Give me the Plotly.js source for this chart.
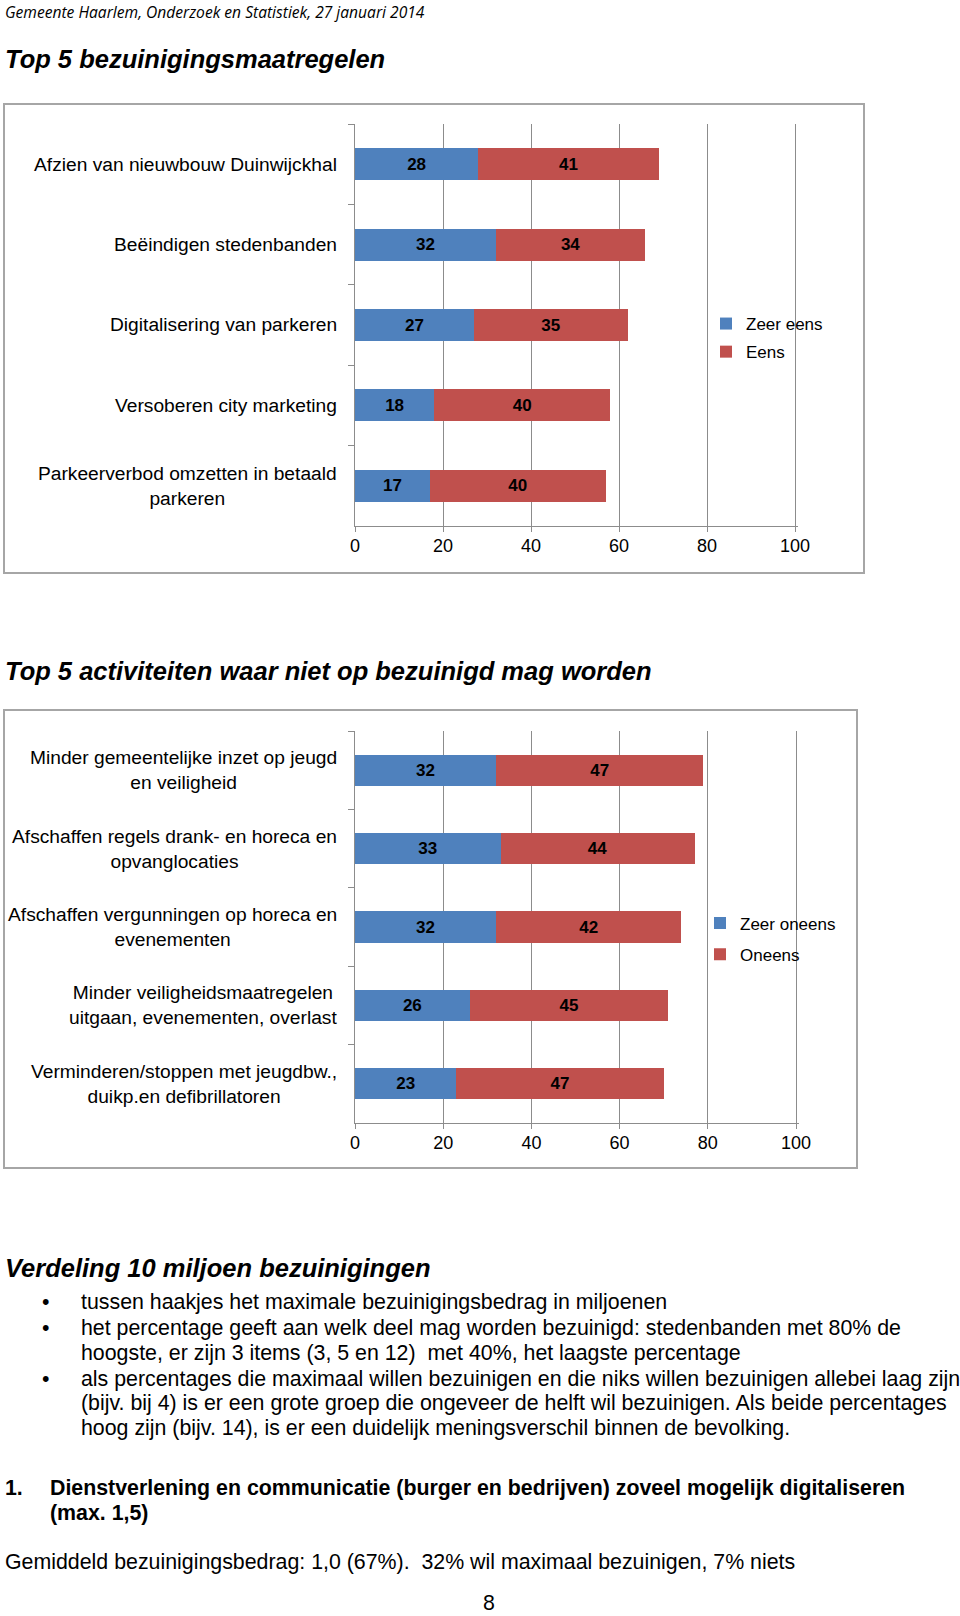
<!DOCTYPE html>
<html><head><meta charset="utf-8">
<script src="https://cdn.plot.ly/plotly-3.0.1.min.js"></script>
<style>html,body{margin:0;padding:0;background:#fff;} #chart{width:960px;height:1616px;}</style>
</head><body><div id="chart"></div>
<script>
// ---- data ----
const categories1 = ["Afzien van nieuwbouw Duinwijckhal", "Beëindigen stedenbanden", "Digitalisering van parkeren", "Versoberen city marketing", "Parkeerverbod omzetten in betaald<br>parkeren"];
const zeerEens = [28, 32, 27, 18, 17];
const eens = [41, 34, 35, 40, 40];
const seriesNames1 = ["Zeer eens", "Eens"];

const categories2 = ["Minder gemeentelijke inzet op jeugd<br>en veiligheid", "Afschaffen regels drank- en horeca en<br>opvanglocaties", "Afschaffen vergunningen op horeca en<br>evenementen", "Minder veiligheidsmaatregelen<br>uitgaan, evenementen, overlast", "Verminderen/stoppen met jeugdbw.,<br>duikp.en defibrillatoren"];
const zeerOneens = [32, 33, 32, 26, 23];
const oneens = [47, 44, 42, 45, 47];
const seriesNames2 = ["Zeer oneens", "Oneens"];

const xTickValues = [0, 20, 40, 60, 80, 100];

const headerText = "Gemeente Haarlem, Onderzoek en Statistiek, 27 januari 2014";
const title1 = "Top 5 bezuinigingsmaatregelen";
const title2 = "Top 5 activiteiten waar niet op bezuinigd mag worden";
const title3 = "Verdeling 10 miljoen bezuinigingen";
const bulletLines = [
  ["tussen haakjes het maximale bezuinigingsbedrag in miljoenen"],
  ["het percentage geeft aan welk deel mag worden bezuinigd: stedenbanden met 80% de",
   "hoogste, er zijn 3 items (3, 5 en 12)\u00a0 met 40%, het laagste percentage"],
  ["als percentages die maximaal willen bezuinigen en die niks willen bezuinigen allebei laag zijn",
   "(bijv. bij 4) is er een grote groep die ongeveer de helft wil bezuinigen. Als beide percentages",
   "hoog zijn (bijv. 14), is er een duidelijk meningsverschil binnen de bevolking."]
];
const itemNumber = "1.";
const itemLines = ["Dienstverlening en communicatie (burger en bedrijven) zoveel mogelijk digitaliseren", "(max. 1,5)"];
const summaryText = "Gemiddeld bezuinigingsbedrag: 1,0 (67%).\u00a0 32% wil maximaal bezuinigen, 7% niets";
const pageNumber = "8";

// ---- helpers (pixel -> paper) ----
const W = 960, H = 1616;
const X = p => p / W;
const Y = p => 1 - p / H;

const FONT = "Liberation Sans, Arial, sans-serif";
const BLUE = "#4f81bd", RED = "#c0504d", GRID = "#8c8c8c", BOX = "#a6a6a6";
const BODY = 21.35;

function barTrace(cats, vals, name, color, xa, ya, leg, grp) {
  return {
    type: "bar", orientation: "h", y: cats, x: vals, name: name,
    xaxis: xa, yaxis: ya, legend: leg, legendgroup: grp,
    marker: {color: color, line: {width: 0}},
    texttemplate: "%{x}", textposition: "inside", insidetextanchor: "middle",
    constraintext: "none",
    textfont: {family: FONT, size: 17, color: "#000", weight: "bold"},
    hoverinfo: "skip"
  };
}

const traces = [
  barTrace(categories1, zeerEens, seriesNames1[0], BLUE, "x", "y", "legend", "g1"),
  barTrace(categories1, eens, seriesNames1[1], RED, "x", "y", "legend", "g2"),
  barTrace(categories2, zeerOneens, seriesNames2[0], BLUE, "x2", "y2", "legend2", "g3"),
  barTrace(categories2, oneens, seriesNames2[1], RED, "x2", "y2", "legend2", "g4")
];

// small headroom past 100 so the gridline at 100 is drawn
const XMAX = 100.6;
function xAxis(domain, anchor) {
  return {
    domain: domain, anchor: anchor, range: [0, XMAX], tickvals: xTickValues,
    showgrid: true, gridcolor: GRID, gridwidth: 1, zeroline: false,
    showline: true, linecolor: GRID, linewidth: 1,
    ticks: "outside", ticklen: 5, tickcolor: GRID, tickwidth: 1, ticklabelstandoff: -2,
    tickfont: {family: FONT, size: 18, color: "#000"}, fixedrange: true
  };
}
function yAxis(domain, anchor) {
  return {
    domain: domain, anchor: anchor, type: "category", autorange: "reversed",
    showgrid: false, zeroline: false, showline: true, linecolor: GRID, linewidth: 1,
    ticks: "outside", tickson: "boundaries", ticklen: 6, tickcolor: GRID, tickwidth: 1,
    showticklabels: false, fixedrange: true
  };
}

const annotations = [];
function txt(x, y, text, opts) {
  annotations.push(Object.assign({
    xref: "paper", yref: "paper", x: X(x), y: Y(y), text: text,
    xanchor: "left", yanchor: "middle", showarrow: false, borderpad: 0,
    font: {family: FONT, size: BODY, color: "#000"}
  }, opts || {}));
}

// category labels placed through the category axes
categories1.forEach(c => annotations.push({
  xref: "paper", yref: "y", x: X(338), y: c, text: c, xanchor: "right", yanchor: "middle",
  align: "center", showarrow: false, borderpad: 0, font: {family: FONT, size: 19.2, color: "#000"}
}));
categories2.forEach(c => annotations.push({
  xref: "paper", yref: "y2", x: X(338), y: c, text: c, xanchor: "right", yanchor: "middle",
  align: "center", showarrow: false, borderpad: 0, font: {family: FONT, size: 19.2, color: "#000"}
}));

txt(4, 0, headerText, {yanchor: "top", font: {family: "Open Sans, Noto Sans, sans-serif", size: 15.6, color: "#000", style: "italic"}});
txt(4, 59, title1, {font: {family: FONT, size: 25.5, color: "#000", weight: "bold", style: "italic"}});
txt(4, 671, title2, {font: {family: FONT, size: 25.5, color: "#000", weight: "bold", style: "italic"}});
txt(4, 1268, title3, {font: {family: FONT, size: 25.5, color: "#000", weight: "bold", style: "italic"}});

const lineYs = [1302, 1328, 1353, 1379, 1403, 1428];
let li = 0;
bulletLines.forEach(lines => {
  txt(41, lineYs[li], "•");
  lines.forEach(l => { txt(80, lineYs[li], l); li++; });
});
txt(4, 1488, itemNumber, {font: {family: FONT, size: BODY, color: "#000", weight: "bold"}});
txt(49, 1488, itemLines[0], {font: {family: FONT, size: BODY, color: "#000", weight: "bold"}});
txt(49, 1513, itemLines[1], {font: {family: FONT, size: BODY, color: "#000", weight: "bold"}});
txt(4, 1562, summaryText);
txt(489, 1616, pageNumber, {xanchor: "center", yanchor: "bottom"});

const shapes = [
  {type: "rect", xref: "paper", yref: "paper", x0: X(4), x1: X(864), y0: Y(104), y1: Y(573), line: {color: BOX, width: 2}},
  {type: "rect", xref: "paper", yref: "paper", x0: X(4), x1: X(857), y0: Y(710), y1: Y(1168), line: {color: BOX, width: 2}}
];

const layout = {
  width: W, height: H, margin: {l: 0, r: 0, t: 0, b: 0},
  paper_bgcolor: "#fff", plot_bgcolor: "rgba(0,0,0,0)",
  barmode: "stack", bargap: 0.6, showlegend: true,
  font: {family: FONT, color: "#000"},
  xaxis: xAxis([X(355), X(355 + 4.4 * XMAX)], "y"),
  yaxis: yAxis([Y(526), Y(124)], "x"),
  xaxis2: xAxis([X(355), X(355 + 4.41 * XMAX)], "y2"),
  yaxis2: yAxis([Y(1123), Y(731)], "x2"),
  legend: {x: X(706), xanchor: "left", y: Y(306), yanchor: "top", bgcolor: "rgba(0,0,0,0)",
           font: {family: FONT, size: 17, color: "#000"}, traceorder: "grouped", tracegroupgap: 3},
  legend2: {x: X(700), xanchor: "left", y: Y(905.5), yanchor: "top", bgcolor: "rgba(0,0,0,0)",
           font: {family: FONT, size: 17, color: "#000"}, traceorder: "grouped", tracegroupgap: 6},
  annotations: annotations, shapes: shapes, hovermode: false
};

Plotly.newPlot("chart", traces, layout, {staticPlot: true, displayModeBar: false});
</script></body></html>
